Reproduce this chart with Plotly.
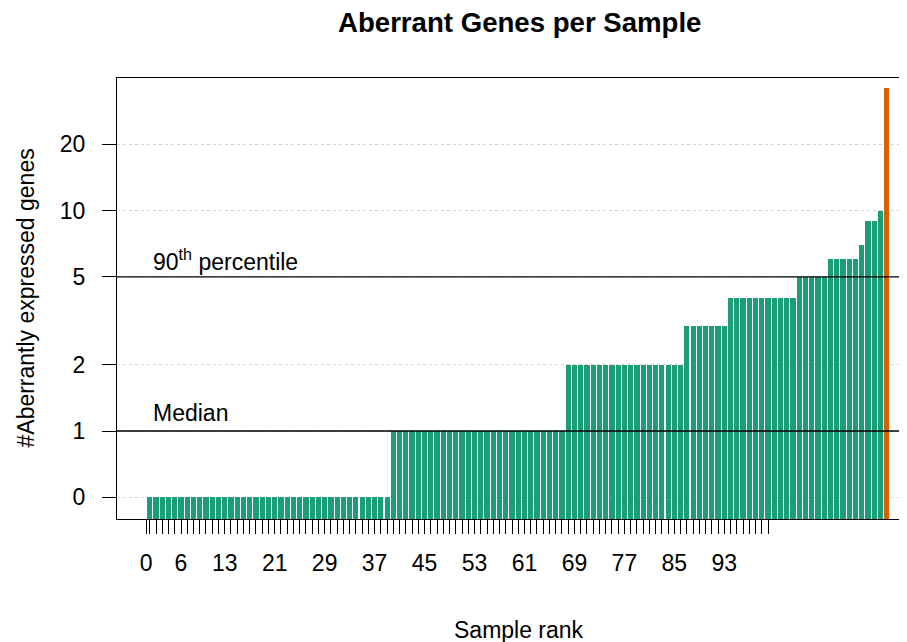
import math
import plotly.graph_objects as go

# ---- data ----
counts = [
    0, 0, 0, 0, 0, 0, 0, 0, 0, 0, 0, 0, 0, 0, 0, 0, 0, 0, 0, 0,
    0, 0, 0, 0, 0, 0, 0, 0, 0, 0, 0, 0, 0, 0, 0, 0, 0, 0, 0,
    1, 1, 1, 1, 1, 1, 1, 1, 1, 1, 1, 1, 1, 1, 1, 1, 1, 1, 1, 1,
    1, 1, 1, 1, 1, 1, 1, 1,
    2, 2, 2, 2, 2, 2, 2, 2, 2, 2, 2, 2, 2, 2, 2, 2, 2, 2, 2,
    3, 3, 3, 3, 3, 3, 3,
    4, 4, 4, 4, 4, 4, 4, 4, 4, 4, 4,
    5, 5, 5, 5, 5,
    6, 6, 6, 6, 6,
    7,
    9, 9,
    10,
    36,
]
highlighted = [False] * (len(counts) - 1) + [True]
shown_rank_labels = [0, 6, 13, 21, 29, 37, 45, 53, 61, 69, 77, 85, 93]
max_ticked_rank = 100
y_tick_values = [0, 1, 2, 5, 10, 20]
median_value = 1
pct90_value = 5

GREEN = "#1B9E77"
ORANGE = "#D95F02"

# R barplot geometry: width 1, space 0.2
centers = [0.7 + 1.2 * i for i in range(len(counts))]
plot_vals = [c if c > 0 else 0.5 for c in counts]  # zero drawn at 0.5 on the log axis
colors = [ORANGE if h else GREEN for h in highlighted]

tick_pos = [0.0] + [0.7 + 1.2 * (r - 1) for r in range(1, max_ticked_rank + 1)]
tick_txt = ["0"] + [str(r) if r in shown_rank_labels else "" for r in range(1, max_ticked_rank + 1)]

xr = [-5.6, 146.2]

fig = go.Figure()
fig.add_trace(go.Bar(x=centers, y=plot_vals, width=1.0,
                     marker=dict(color=colors, line=dict(width=0)),
                     hoverinfo="skip"))
for v in (median_value, pct90_value):
    fig.add_trace(go.Scatter(x=xr, y=[v, v], mode="lines",
                             line=dict(color="black", width=1.3),
                             hoverinfo="skip", cliponaxis=False))

font_family = "Liberation Sans, Arial, Helvetica, sans-serif"
fig.update_layout(
    width=899, height=634,
    margin=dict(l=109, r=0, t=70, b=123),
    plot_bgcolor="white", paper_bgcolor="white",
    showlegend=False, bargap=0,
    font=dict(family=font_family, size=23, color="black"),
    xaxis=dict(range=xr, tickmode="array", tickvals=tick_pos, ticktext=tick_txt,
               ticks="outside", ticklen=14, tickwidth=1.3, tickcolor="black",
               showline=True, linecolor="black", linewidth=1.3, mirror=True,
               showgrid=False, zeroline=False, ticklabelstandoff=9),
    yaxis=dict(type="log", range=[-0.399, 1.601], tickmode="array",
               tickvals=[v if v > 0 else 0.5 for v in y_tick_values],
               ticktext=[str(v) for v in y_tick_values],
               ticks="outside", ticklen=14, tickwidth=1.3, tickcolor="black",
               showline=True, linecolor="black", linewidth=1.3,
               showgrid=True, gridcolor="#D3D3D3", gridwidth=1, griddash="dot",
               zeroline=False, ticklabelstandoff=12),
    annotations=[
        dict(text="<b>Aberrant Genes per Sample</b>", xref="paper", yref="paper",
             x=0.5089, y=(519 - 22) / 441, xanchor="center", yanchor="middle",
             showarrow=False, font=dict(size=27.6)),
        dict(text="Sample rank", xref="paper", yref="paper",
             x=0.5089, y=(519 - 630) / 441, xanchor="center", yanchor="middle",
             showarrow=False),
        dict(text="#Aberrantly expressed genes", xref="paper", yref="paper",
             x=(25 - 117) / 790, y=0.5, xanchor="center", yanchor="middle",
             textangle=-90, showarrow=False),
        dict(text="Median", xref="x", yref="y", x=1.0, y=math.log10(median_value),
             xanchor="left", yanchor="middle", yshift=18, showarrow=False),
        dict(text="90<sup>th</sup> percentile", xref="x", yref="y", x=1.0,
             y=math.log10(pct90_value), xanchor="left", yanchor="middle",
             yshift=17, showarrow=False),
    ],
)

fig.write_html("out.html")
